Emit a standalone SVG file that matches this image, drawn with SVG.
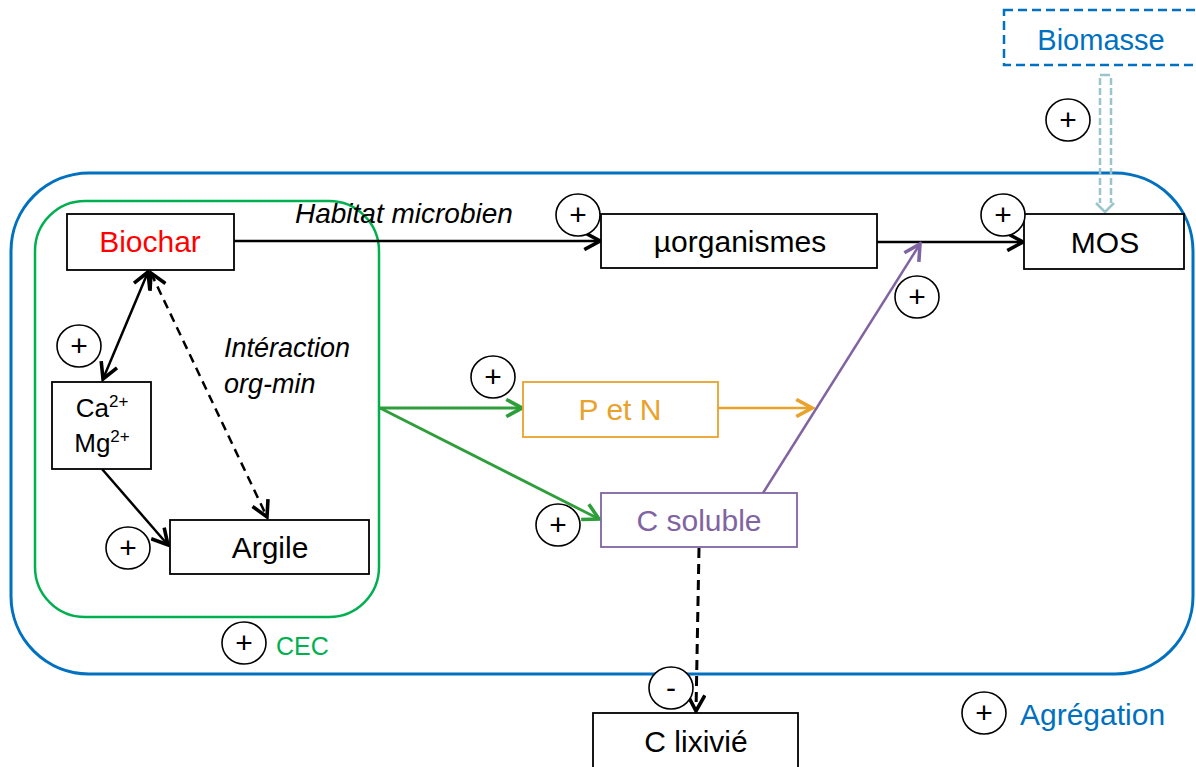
<svg xmlns="http://www.w3.org/2000/svg" width="1196" height="767" viewBox="0 0 1196 767">
<defs>
<style>
.t{font-family:"Liberation Sans",Arial,sans-serif;text-anchor:middle}
.it{font-family:"Liberation Sans",Arial,sans-serif;font-style:italic;font-size:27px;fill:#000}
.box{fill:#fff;stroke:#000;stroke-width:1.8}
.sign{fill:#fff;stroke:#000;stroke-width:1.6}
.st{font-family:"Liberation Sans",Arial,sans-serif;font-size:30px;text-anchor:middle;fill:#000}
.blk{stroke:#000;stroke-width:2.5;fill:none}
.grn{stroke:#2e9e3a;stroke-width:2.8;fill:none}
</style>
<marker id="ab" markerUnits="userSpaceOnUse" markerWidth="20" markerHeight="20" refX="12" refY="7" orient="auto-start-reverse" viewBox="0 0 14 14"><path d="M1,1 L12,7 L1,13" fill="none" stroke="#000" stroke-width="2.5"/></marker>
<marker id="ag" markerUnits="userSpaceOnUse" markerWidth="20" markerHeight="20" refX="12" refY="7" orient="auto" viewBox="0 0 14 14"><path d="M1,1 L12,7 L1,13" fill="none" stroke="#2e9e3a" stroke-width="2.5"/></marker>
<marker id="ao" markerUnits="userSpaceOnUse" markerWidth="20" markerHeight="20" refX="12" refY="7" orient="auto" viewBox="0 0 14 14"><path d="M1,1 L12,7 L1,13" fill="none" stroke="#e9a22c" stroke-width="2.5"/></marker>
<marker id="ap" markerUnits="userSpaceOnUse" markerWidth="20" markerHeight="20" refX="12" refY="7" orient="auto" viewBox="0 0 14 14"><path d="M1,1 L12,7 L1,13" fill="none" stroke="#8064a2" stroke-width="2.5"/></marker>
</defs>

<g id="agregation-zone">
<rect x="11" y="173" width="1182" height="501" rx="78" ry="78" fill="none" stroke="#0070c0" stroke-width="3"/>
</g>
<g id="cec-zone">
<rect x="35" y="201" width="344" height="416" rx="50" ry="50" fill="none" stroke="#00b050" stroke-width="2.5"/>
</g>

<g id="connectors">
<line class="blk" x1="234" y1="241" x2="600" y2="241" marker-end="url(#ab)"/>
<line class="blk" x1="876" y1="242" x2="1023" y2="242" marker-end="url(#ab)"/>
<line class="blk" x1="148" y1="272" x2="103" y2="379" marker-start="url(#ab)" marker-end="url(#ab)"/>
<line class="blk" x1="151" y1="273" x2="267" y2="517" stroke-dasharray="9,6" marker-start="url(#ab)" marker-end="url(#ab)"/>
<line class="blk" x1="102" y1="469" x2="168" y2="545" marker-end="url(#ab)"/>
<line class="grn" x1="380" y1="408" x2="522" y2="408" marker-end="url(#ag)"/>
<line class="grn" x1="380" y1="408" x2="599" y2="519" marker-end="url(#ag)"/>
<line x1="718" y1="408" x2="812" y2="408" stroke="#e9a22c" stroke-width="2.5" marker-end="url(#ao)"/>
<line x1="763" y1="493" x2="920" y2="244" stroke="#8064a2" stroke-width="2.5" marker-end="url(#ap)"/>
<line x1="699" y1="548" x2="696" y2="711" stroke="#000" stroke-width="3" stroke-dasharray="10,6" marker-end="url(#ab)"/>
<g id="biomasse-arrow" fill="none" stroke="#9cc4cc" stroke-width="2.5">
<path d="M1100,75 L1110,75"/>
<path d="M1100,78 L1100,203 M1111,78 L1111,203" stroke-dasharray="7,3"/>
<path d="M1096,203 L1105,212 L1114,203"/>
</g>
</g>

<g id="biomasse">
<rect x="1004" y="10" width="200" height="55" fill="#fff" stroke="#0070c0" stroke-width="2.5" stroke-dasharray="9,5"/>
<text class="t" x="1101" y="50" font-size="29" fill="#0070c0">Biomasse</text>
</g>
<g id="biochar">
<rect class="box" x="67" y="214" width="167" height="56"/>
<text class="t" x="150" y="252" font-size="30" fill="#ff0000">Biochar</text>
</g>
<g id="microorganismes">
<rect class="box" x="601" y="214" width="276" height="54"/>
<text class="t" x="740" y="252" font-size="30" fill="#000">µorganismes</text>
</g>
<g id="mos">
<rect class="box" x="1024" y="214" width="160" height="55"/>
<text class="t" x="1105" y="253" font-size="30" fill="#000">MOS</text>
</g>
<g id="camg">
<rect class="box" x="52" y="382" width="99" height="87"/>
<text class="t" x="102" y="417" font-size="26" fill="#000">Ca<tspan font-size="17" dy="-10">2+</tspan></text>
<text class="t" x="102" y="452" font-size="26" fill="#000">Mg<tspan font-size="17" dy="-10">2+</tspan></text>
</g>
<g id="argile">
<rect class="box" x="170" y="520" width="199" height="54"/>
<text class="t" x="270" y="558" font-size="30" fill="#000">Argile</text>
</g>
<g id="pn">
<rect x="523" y="382" width="195" height="55" fill="#fff" stroke="#e9a22c" stroke-width="1.8"/>
<text class="t" x="620" y="420" font-size="30" fill="#e9a22c">P et N</text>
</g>
<g id="csoluble">
<rect x="601" y="493" width="196" height="54" fill="#fff" stroke="#8064a2" stroke-width="1.8"/>
<text class="t" x="699" y="531" font-size="30" fill="#8064a2">C soluble</text>
</g>
<g id="clixivie">
<rect class="box" x="593" y="713" width="205" height="70"/>
<text class="t" x="696" y="752" font-size="30" fill="#000">C lixivié</text>
</g>

<g id="labels">
<text class="it" x="295" y="223" style="font-size:28px">Habitat microbien</text>
<text class="it" x="224" y="357">Intéraction</text>
<text class="it" x="224" y="393">org-min</text>
<text x="276" y="655" font-family="Liberation Sans,Arial,sans-serif" font-size="25" fill="#00b050">CEC</text>
<text x="1020" y="725" font-family="Liberation Sans,Arial,sans-serif" font-size="30" fill="#0070c0">Agrégation</text>
</g>

<g id="signs">
<g><ellipse class="sign" cx="1068" cy="120" rx="22" ry="21"/><text class="st" x="1068" y="130">+</text></g>
<g><ellipse class="sign" cx="578" cy="215" rx="22" ry="21"/><text class="st" x="578" y="225">+</text></g>
<g><ellipse class="sign" cx="1003" cy="215" rx="22" ry="21"/><text class="st" x="1003" y="225">+</text></g>
<g><ellipse class="sign" cx="917" cy="297" rx="22" ry="21"/><text class="st" x="917" y="307">+</text></g>
<g><ellipse class="sign" cx="493" cy="377" rx="22" ry="21"/><text class="st" x="493" y="387">+</text></g>
<g><ellipse class="sign" cx="558" cy="525" rx="22" ry="21"/><text class="st" x="558" y="535">+</text></g>
<g><ellipse class="sign" cx="79" cy="346" rx="22" ry="21"/><text class="st" x="79" y="356">+</text></g>
<g><ellipse class="sign" cx="128" cy="548" rx="22" ry="21"/><text class="st" x="128" y="558">+</text></g>
<g><ellipse class="sign" cx="244" cy="643" rx="22" ry="21"/><text class="st" x="244" y="653">+</text></g>
<g><ellipse class="sign" cx="984" cy="713" rx="22" ry="21"/><text class="st" x="984" y="723">+</text></g>
<g><ellipse class="sign" cx="671" cy="688" rx="22" ry="21" fill="none"/><text class="st" x="671" y="698">-</text></g>
</g>
</svg>
